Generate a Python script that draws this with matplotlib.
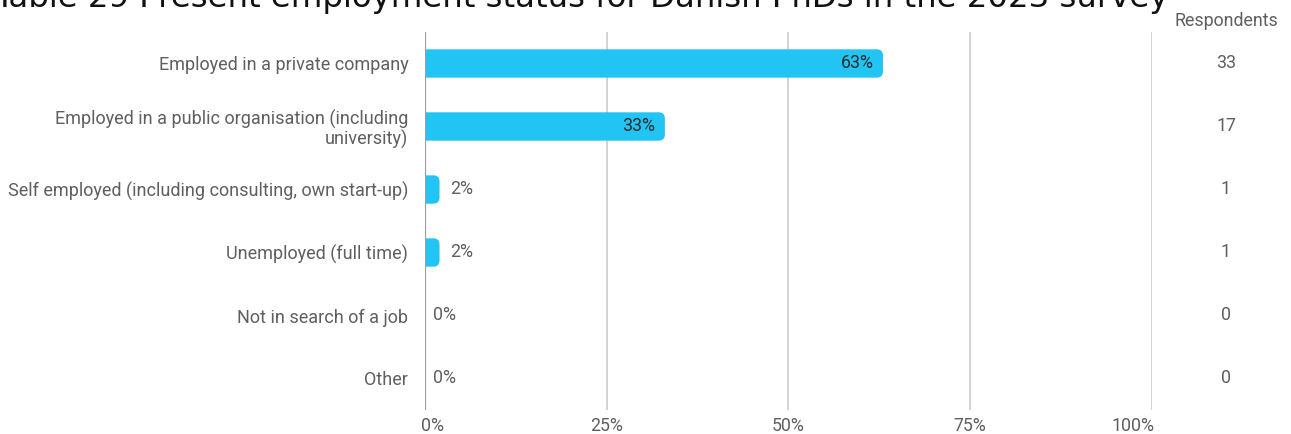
import matplotlib.pyplot as plt
from matplotlib.patches import FancyBboxPatch
from matplotlib.transforms import blended_transform_factory, ScaledTranslation

categories = [
    "Employed in a private company",
    "Employed in a public organisation (including\nuniversity)",
    "Self employed (including consulting, own start-up)",
    "Unemployed (full time)",
    "Not in search of a job",
    "Other",
]
shares = [63, 33, 2, 2, 0, 0]
respondents = [33, 17, 1, 1, 0, 0]
xticks = [0, 25, 50, 75, 100]
xtick_labels = ["0%", "25%", "50%", "75%", "100%"]

bar_color = "#22c4f4"
text_gray = "#5f5f5f"
fs = 12.8

plt.rcParams["font.family"] = ["Roboto", "DejaVu Sans"]

fig = plt.figure(figsize=(12.91, 4.34), dpi=100)
ax = fig.add_axes([0.3292, 0.0553, 0.5631, 0.871])

ax.set_xlim(0, 100)
ax.set_ylim(len(categories) - 0.5, -0.5)

# rounded right end, left end hidden under the axis
bar_h = 0.45
for i, v in enumerate(shares):
    if v <= 0:
        continue
    box = FancyBboxPatch((-2, i - bar_h / 2), v + 2, bar_h,
                         boxstyle="round,pad=0,rounding_size=0.85",
                         mutation_aspect=0.116,
                         facecolor=bar_color, edgecolor="none", zorder=3)
    ax.add_patch(box)

for i, v in enumerate(shares):
    if v >= 20:
        ax.text(v - 1.3, i, f"{v}%", ha="right", va="center",
                fontsize=fs, color="#2b2b2b", zorder=4)
    elif v > 0:
        ax.text(v + 1.5, i, f"{v}%", ha="left", va="center",
                fontsize=fs, color=text_gray, zorder=4)
    else:
        ax.text(1.1, i, f"{v}%", ha="left", va="center",
                fontsize=fs, color=text_gray, zorder=4)

ax.set_yticks(range(len(categories)))
ax.set_yticklabels(categories, fontsize=13, color=text_gray, linespacing=1.06)
ax.tick_params(axis="y", length=0, pad=12)

ax.set_xticks(xticks)
ax.set_xticklabels(xtick_labels, fontsize=fs, color=text_gray)
ax.tick_params(axis="x", length=0, pad=5)
labels = ax.get_xticklabels()
labels[0].set_horizontalalignment("left")
labels[-1].set_horizontalalignment("right")
labels[0].set_transform(labels[0].get_transform()
                        + ScaledTranslation(-4 / 100, 0, fig.dpi_scale_trans))
labels[-1].set_transform(labels[-1].get_transform()
                         + ScaledTranslation(3 / 100, 0, fig.dpi_scale_trans))

for x in xticks[1:]:
    ax.axvline(x, color="#cccccc", linewidth=1.2, zorder=1)
ax.axvline(0, color="#9e9e9e", linewidth=1.6, zorder=5)

for s in ax.spines.values():
    s.set_visible(False)

# respondents column on the right
fig.text(1226 / 1291, 1 - 21 / 434, "Respondents", ha="center", va="center",
         fontsize=fs, color=text_gray)
col = blended_transform_factory(fig.transFigure, ax.transData)
for i, n in enumerate(respondents):
    ax.text(1226 / 1291, i, str(n), transform=col,
            ha="center", va="center", fontsize=fs, color=text_gray)

fig.text(-6 / 1291, 1 - 7.5 / 434,
         "Table 29 Present employment status for Danish PhDs in the 2023 survey",
         ha="left", va="baseline", fontsize=23.3, color="#111111",
         family=["DejaVu Sans"])

fig.savefig("out.png", dpi=100)
